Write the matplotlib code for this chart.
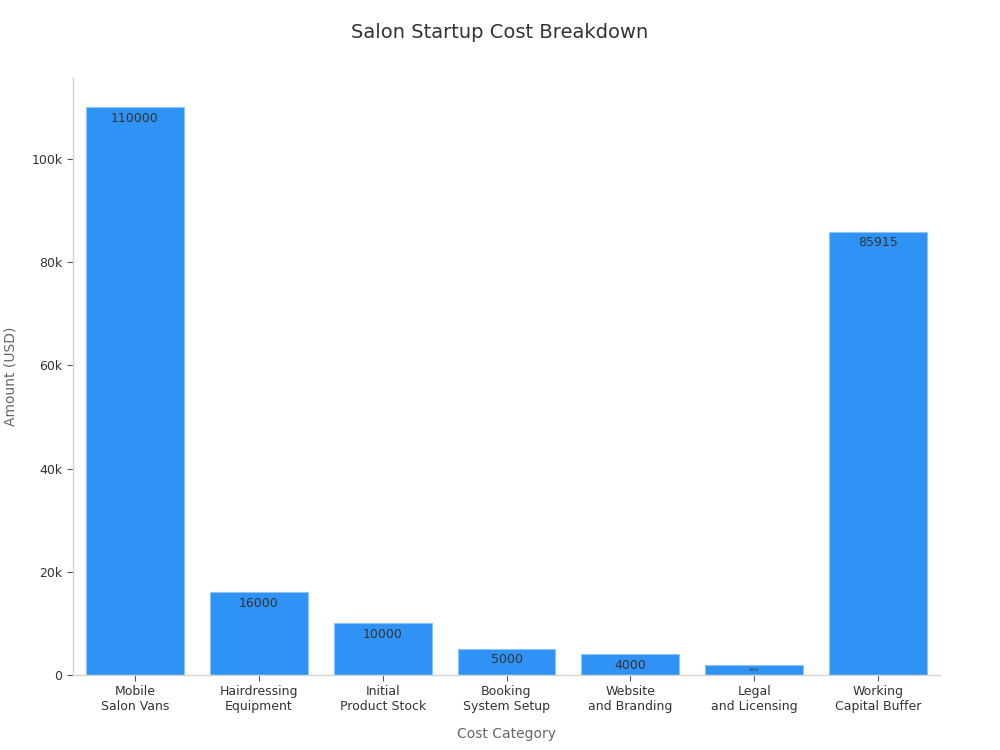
import matplotlib
matplotlib.use("Agg")
import matplotlib.pyplot as plt
from matplotlib.ticker import FuncFormatter

categories = ["Mobile\nSalon Vans", "Hairdressing\nEquipment", "Initial\nProduct Stock",
              "Booking\nSystem Setup", "Website\nand Branding", "Legal\nand Licensing",
              "Working\nCapital Buffer"]
values = [110000, 16000, 10000, 5000, 4000, 2000, 85915]
yticks = [0, 20000, 40000, 60000, 80000, 100000]

plt.rcParams['font.family'] = ['DejaVu Sans']
fig = plt.figure(figsize=(10, 7.5), dpi=100)
ax = fig.add_axes([0.073, 0.1, 0.867, 0.796])

x = list(range(len(categories)))
bars = ax.bar(x, values, width=0.79, color="#2f93f6", edgecolor="#8cc4f7", linewidth=0.8)

for i, (b, v) in enumerate(zip(bars, values)):
    h = b.get_height()
    if v < 3000:
        ax.text(b.get_x() + b.get_width() / 2, h / 2, str(v), ha="center", va="center",
                fontsize=3, color="#333333")
    else:
        ax.annotate(str(v), (b.get_x() + b.get_width() / 2, h), xytext=(0, -3),
                    textcoords="offset points", ha="center", va="top",
                    fontsize=9, color="#333333")

ax.set_xlim(-0.5, 6.5)
ax.set_ylim(0, 115700)
ax.set_xticks(x)
ax.set_xticklabels(categories, fontsize=9, color="#333333")
ax.set_yticks(yticks)
ax.yaxis.set_major_formatter(FuncFormatter(lambda v, p: "0" if v == 0 else f"{int(v/1000)}k"))
ax.tick_params(axis="y", labelsize=9, colors="#333333", length=4, color="#555555")
ax.tick_params(axis="x", length=4, color="#555555")
for s in ["top", "right"]:
    ax.spines[s].set_visible(False)
for s in ["left", "bottom"]:
    ax.spines[s].set_color("#d6d6d6")
    ax.spines[s].set_linewidth(1)

ax.set_xlabel("Cost Category", fontsize=10, color="#666666", labelpad=10)
ax.set_ylabel("Amount (USD)", fontsize=10, color="#666666", labelpad=10)
fig.text(0.5, 0.956, "Salon Startup Cost Breakdown", ha="center", va="center",
         fontsize=14, color="#333333")

fig.savefig("out.png", dpi=100, facecolor="white")
